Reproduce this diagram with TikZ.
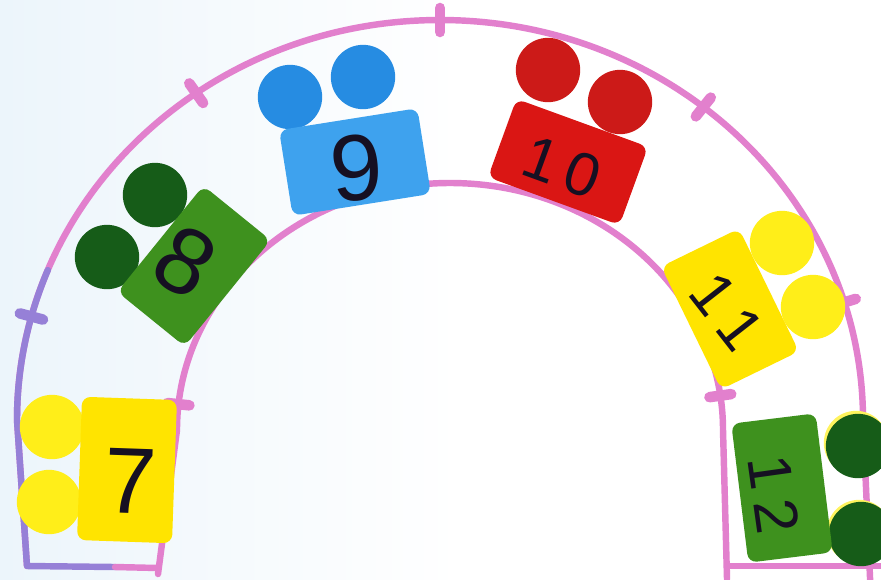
\documentclass[tikz,border=0pt]{standalone}
\usepackage{fontspec}
\setmainfont{Liberation Sans}
\usetikzlibrary{calc}
\definecolor{pinkline}{RGB}{226,128,205}
\definecolor{purpline}{RGB}{150,128,215}
\definecolor{cyellow}{RGB}{255,228,0}
\definecolor{dyellow}{RGB}{255,238,25}
\definecolor{cgreen}{RGB}{62,145,30}
\definecolor{dgreen}{RGB}{22,92,24}
\definecolor{cblue}{RGB}{62,162,238}
\definecolor{dblue}{RGB}{38,140,226}
\definecolor{cred}{RGB}{218,22,20}
\definecolor{dred}{RGB}{204,26,24}
\definecolor{ink}{RGB}{22,16,34}
\definecolor{bgblue}{RGB}{236,245,251}
\begin{document}
\begin{tikzpicture}[x=0.03cm,y=-0.03cm,
  card/.style={rounded corners=0.26cm, inner sep=0pt},
  disc/.style={circle, minimum size=1.93cm, inner sep=0pt},
  arcline/.style={draw=pinkline, line width=5.5pt, line cap=round, line join=round},
  tickmark/.style={draw=pinkline, line width=9pt, line cap=round},
  bignum/.style={text=ink, font=\fontsize{80}{80}\selectfont, inner sep=0pt},
  smallnum/.style={text=ink, font=\fontsize{52}{52}\selectfont, inner sep=0pt}]
\useasboundingbox (0,0) rectangle (881,579);
% background
\fill[white] (0,0) rectangle (881,579);
\shade[left color=bgblue, right color=white] (0,0) rectangle (460,579);
% centres of the arch
\coordinate (oc) at (440,420);
\coordinate (ic) at (450,430);
% outer line
\draw[arcline] (27,566) -- (17,420) arc[start angle=180, end angle=360, x radius=423, y radius=400] -- (871,600);
\draw[arcline, draw=purpline] (115,567) -- (27,566) -- (17,420) arc[start angle=180, end angle=202, x radius=423, y radius=400];
\draw[arcline] (115,567) -- (158,568);
% inner line
\draw[arcline] (158,574) -- (177,430) arc[start angle=180, end angle=360, x radius=273, y radius=247] -- (727,579);
\draw[arcline] (727,566) -- (895,566);
% ticks
\draw[tickmark, draw=purpline] ($(oc)+(195:411 and 388)$) -- ($(oc)+(195:435 and 412)$);
\foreach \a in {234.8,270,308.5,342.9}
  \draw[tickmark] ($(oc)+(\a:411 and 388)$) -- ($(oc)+(\a:435 and 412)$);
\foreach \a in {186,352}
  \draw[tickmark] ($(ic)+(\a:262 and 236)$) -- ($(ic)+(\a:284 and 258)$);
% discs
\node[disc, fill=dyellow] (d7a) at (52,427) {};
\node[disc, fill=dyellow] (d7b) at (49,502) {};
\node[disc, fill=dgreen] (d8a) at (155,195) {};
\node[disc, fill=dgreen] (d8b) at (107,257) {};
\node[disc, fill=dblue] (d9a) at (290,97) {};
\node[disc, fill=dblue] (d9b) at (363,77) {};
\node[disc, fill=dred] (d10a) at (548,70) {};
\node[disc, fill=dred] (d10b) at (620,102) {};
\node[disc, fill=dyellow] (d11a) at (782,243) {};
\node[disc, fill=dyellow] (d11b) at (813,307) {};
\node[disc, fill=dyellow!70] (h12a) at (856,443) {};
\node[disc, fill=dyellow!70] (h12b) at (859,532) {};
\node[disc, fill=dgreen] (d12a) at (858,446) {};
\node[disc, fill=dgreen] (d12b) at (861,534) {};
% cards
\node[card, fill=cyellow, minimum width=2.85cm, minimum height=4.3cm, rotate=-2] (c7) at (127,470) {};
\node[card, fill=cgreen, minimum width=2.6cm, minimum height=4.1cm, rotate=-39] (c8) at (194,266) {};
\node[card, fill=cblue, minimum width=4.2cm, minimum height=2.6cm, rotate=9] (c9) at (355,162) {};
\node[card, fill=cred, minimum width=4.2cm, minimum height=2.5cm, rotate=-20] (c10) at (568,162) {};
\node[card, fill=cyellow, minimum width=2.6cm, minimum height=4.1cm, rotate=26] (c11) at (730,309) {};
\node[card, fill=cgreen, minimum width=2.55cm, minimum height=4.2cm, rotate=7] (c12) at (782,488) {};
% numbers
\node[bignum, rotate=-2] (t7) at (131,481) {7};
\node[bignum, rotate=-30] (t8) at (185,262) {8};
\node[bignum, rotate=5] (t9) at (357,168) {9};
\node[smallnum, rotate=-20] (t10) at (562,167) {1\kern9pt0};
\node[smallnum, rotate=-52] (t11) at (727,311) {1\kern9pt1};
\node[smallnum, rotate=-82] (t12) at (774,494) {1\kern9pt2};
\end{tikzpicture}
\end{document}
